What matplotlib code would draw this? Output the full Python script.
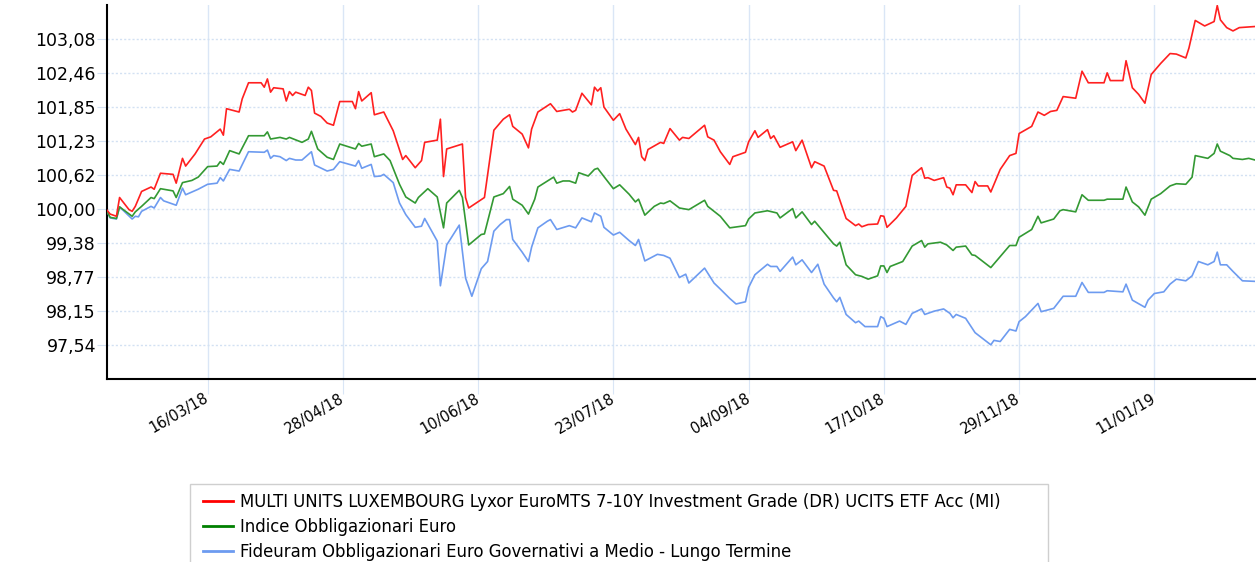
import matplotlib
matplotlib.use("Agg")
import matplotlib.pyplot as plt
from matplotlib.patches import Rectangle
from matplotlib.lines import Line2D
from matplotlib.transforms import ScaledTranslation
import pandas as pd

# days counted from the first date of the chart
start = pd.Timestamp("2018-02-12")

red_days = [0, 1, 3, 4, 7, 8, 9, 11, 14, 15, 17, 21, 22, 24, 25, 28, 31, 33, 36, 37, 38, 42, 43, 45,
            49, 50, 51, 52, 53, 56, 57, 58, 59, 60, 63, 64, 65, 66, 68, 70, 72, 74, 78, 79, 80, 81, 84,
            85, 88, 91, 94, 95, 98, 100, 101, 105, 106, 107, 108, 113, 114, 115, 120, 123, 126, 128,
            129, 132, 134, 135, 137, 141, 143, 147, 148, 149, 151, 154, 155, 156, 157, 158, 161, 163,
            165, 168, 169, 170, 171, 172, 176, 177, 179, 182, 183, 185, 190, 191, 193, 195, 198, 199,
            203, 204, 206, 207, 210, 211, 212, 214, 218, 219, 221, 224, 225, 228, 231, 232, 235, 238,
            239, 240, 242, 245, 246, 247, 248, 251, 254, 256, 259, 260, 261, 263, 266, 267, 268, 269,
            270, 273, 275, 276, 277, 280, 281, 284, 287, 289, 290, 294, 296, 298, 300, 302, 304, 308,
            310, 312, 317, 318, 319, 323, 324, 326, 328, 330, 332, 335, 338, 340, 343, 344, 346, 349,
            352, 353, 354, 356, 358, 360, 365]
red_vals = [99.98, 99.91, 99.87, 100.21, 99.99, 99.96, 100.05, 100.32, 100.40, 100.36, 100.65, 100.63,
            100.47, 100.92, 100.78, 101.00, 101.27, 101.31, 101.45, 101.34, 101.82, 101.76, 102.00,
            102.29, 102.29, 102.21, 102.36, 102.12, 102.20, 102.18, 101.96, 102.13, 102.06, 102.12,
            102.06, 102.21, 102.15, 101.74, 101.68, 101.56, 101.52, 101.95, 101.95, 101.82, 102.13,
            101.96, 102.11, 101.71, 101.76, 101.42, 100.90, 100.97, 100.75, 100.88, 101.21, 101.25,
            101.63, 100.59, 101.09, 101.18, 100.21, 100.02, 100.21, 101.43, 101.63, 101.71, 101.50,
            101.36, 101.11, 101.45, 101.76, 101.91, 101.77, 101.81, 101.76, 101.79, 102.10, 101.89,
            102.21, 102.14, 102.20, 101.85, 101.61, 101.73, 101.45, 101.17, 101.30, 100.95, 100.88,
            101.08, 101.21, 101.19, 101.46, 101.25, 101.30, 101.28, 101.52, 101.31, 101.25, 101.04,
            100.81, 100.95, 101.03, 101.22, 101.42, 101.30, 101.44, 101.28, 101.33, 101.12, 101.22,
            101.06, 101.25, 100.75, 100.86, 100.78, 100.34, 100.33, 99.83, 99.70, 99.73, 99.68, 99.72,
            99.73, 99.88, 99.87, 99.67, 99.84, 100.05, 100.61, 100.75, 100.56, 100.57, 100.52, 100.57,
            100.40, 100.38, 100.26, 100.44, 100.44, 100.30, 100.50, 100.42, 100.42, 100.31, 100.72,
            100.97, 101.01, 101.37, 101.50, 101.76, 101.70, 101.77, 101.79, 102.04, 102.01, 102.50,
            102.29, 102.29, 102.47, 102.33, 102.33, 102.69, 102.20, 102.08, 101.92, 102.44, 102.64,
            102.82, 102.81, 102.74, 102.92, 103.42, 103.32, 103.40, 103.69, 103.43, 103.29, 103.23,
            103.29, 103.31]

green_days = [0, 1, 3, 4, 8, 9, 11, 14, 15, 17, 21, 22, 24, 27, 29, 32, 35, 36, 37, 39, 42, 45, 50, 51,
              52, 55, 57, 58, 62, 64, 65, 67, 70, 72, 74, 79, 80, 81, 84, 85, 88, 90, 93, 95, 98, 99,
              102, 105, 107, 108, 112, 113, 115, 119, 120, 123, 126, 128, 129, 132, 134, 136, 137, 142,
              143, 145, 147, 149, 150, 153, 155, 156, 158, 161, 163, 166, 168, 169, 171, 174, 176, 177,
              179, 182, 185, 190, 191, 195, 198, 203, 204, 206, 210, 213, 214, 218, 219, 221, 224, 225,
              231, 232, 233, 235, 238, 240, 242, 245, 246, 247, 248, 249, 253, 256, 259, 260, 261, 265,
              267, 269, 270, 273, 275, 276, 281, 284, 287, 289, 290, 294, 296, 297, 301, 303, 304, 308,
              310, 312, 317, 318, 323, 324, 326, 328, 330, 332, 335, 338, 340, 343, 345, 346, 350, 352,
              353, 354, 357, 358, 361, 363, 365]
green_vals = [99.96, 99.85, 99.83, 100.04, 99.87, 99.95, 100.05, 100.21, 100.19, 100.37, 100.33, 100.21,
              100.48, 100.52, 100.58, 100.77, 100.78, 100.86, 100.81, 101.06, 101.00, 101.33, 101.33,
              101.40, 101.27, 101.30, 101.27, 101.30, 101.21, 101.27, 101.41, 101.09, 100.94, 100.90,
              101.18, 101.09, 101.19, 101.14, 101.18, 100.95, 101.00, 100.88, 100.45, 100.22, 100.11,
              100.21, 100.37, 100.22, 99.66, 100.11, 100.34, 100.21, 99.35, 99.54, 99.55, 100.22,
              100.28, 100.41, 100.18, 100.07, 99.91, 100.18, 100.40, 100.58, 100.47, 100.51, 100.51,
              100.47, 100.66, 100.60, 100.72, 100.74, 100.59, 100.37, 100.44, 100.27, 100.13, 100.18,
              99.89, 100.05, 100.11, 100.10, 100.15, 100.02, 99.99, 100.16, 100.05, 99.87, 99.66, 99.70,
              99.82, 99.93, 99.97, 99.93, 99.84, 100.01, 99.84, 99.95, 99.72, 99.78, 99.37, 99.33,
              99.40, 98.99, 98.81, 98.78, 98.73, 98.79, 98.97, 98.97, 98.85, 98.96, 99.05, 99.33, 99.43,
              99.31, 99.37, 99.40, 99.35, 99.25, 99.31, 99.33, 99.17, 99.16, 98.94, 99.14, 99.34, 99.34,
              99.49, 99.63, 99.87, 99.75, 99.82, 99.97, 99.99, 99.95, 100.26, 100.16, 100.16, 100.18,
              100.18, 100.40, 100.13, 100.04, 99.89, 100.18, 100.28, 100.42, 100.46, 100.45, 100.58,
              100.97, 100.92, 101.01, 101.18, 101.05, 100.97, 100.92, 100.90, 100.92, 100.89]

blue_days = [0, 1, 3, 4, 8, 9, 10, 11, 14, 15, 17, 18, 22, 24, 25, 29, 32, 35, 36, 37, 39, 42, 45, 50,
             51, 52, 53, 55, 57, 58, 60, 62, 65, 66, 70, 72, 74, 79, 80, 81, 84, 85, 87, 88, 91, 93, 95,
             98, 100, 101, 105, 106, 108, 112, 114, 116, 119, 121, 123, 125, 127, 128, 129, 132, 134,
             135, 137, 140, 141, 143, 147, 149, 151, 154, 155, 157, 158, 161, 163, 166, 168, 169, 171,
             175, 177, 179, 182, 184, 185, 190, 193, 195, 198, 200, 203, 204, 206, 210, 211, 213, 214,
             218, 219, 221, 224, 226, 228, 231, 232, 233, 235, 238, 239, 241, 245, 246, 247, 248, 252,
             254, 256, 259, 260, 263, 266, 268, 269, 270, 273, 276, 281, 282, 284, 287, 289, 290, 292,
             296, 297, 301, 304, 308, 310, 312, 317, 318, 323, 324, 326, 330, 331, 333, 336, 338, 340,
             343, 345, 347, 350, 352, 353, 354, 356, 358, 361, 365]
blue_vals = [99.96, 99.84, 99.82, 100.04, 99.82, 99.87, 99.86, 99.96, 100.05, 100.02, 100.21, 100.15,
             100.07, 100.38, 100.26, 100.36, 100.45, 100.47, 100.57, 100.51, 100.72, 100.69, 101.04,
             101.03, 101.07, 100.92, 100.97, 100.95, 100.88, 100.92, 100.89, 100.89, 101.04, 100.80,
             100.69, 100.72, 100.86, 100.78, 100.88, 100.74, 100.81, 100.59, 100.60, 100.63, 100.48,
             100.11, 99.90, 99.67, 99.69, 99.83, 99.42, 98.61, 99.35, 99.71, 98.75, 98.42, 98.92,
             99.05, 99.60, 99.72, 99.81, 99.81, 99.45, 99.22, 99.05, 99.31, 99.66, 99.78, 99.81, 99.63,
             99.70, 99.66, 99.84, 99.77, 99.93, 99.87, 99.67, 99.53, 99.58, 99.43, 99.34, 99.45, 99.06,
             99.18, 99.16, 99.11, 98.76, 98.82, 98.66, 98.93, 98.66, 98.55, 98.38, 98.28, 98.32, 98.58,
             98.81, 99.00, 98.96, 98.96, 98.87, 99.13, 98.99, 99.08, 98.85, 99.00, 98.64, 98.39, 98.32,
             98.40, 98.09, 97.94, 97.97, 97.87, 97.87, 98.05, 98.02, 97.87, 97.97, 97.91, 98.11, 98.19,
             98.09, 98.15, 98.19, 98.11, 98.03, 98.09, 98.02, 97.76, 97.54, 97.62, 97.60, 97.82, 97.79,
             97.96, 98.05, 98.29, 98.14, 98.20, 98.42, 98.42, 98.67, 98.49, 98.49, 98.52, 98.50, 98.64,
             98.35, 98.22, 98.35, 98.47, 98.50, 98.64, 98.73, 98.70, 98.79, 99.05, 98.99, 99.05, 99.22,
             98.99, 98.99, 98.87, 98.70, 98.69]

y_ticks = [97.54, 98.15, 98.77, 99.38, 100.00, 100.62, 101.23, 101.85, 102.46, 103.08]
y_labels = ["97,54", "98,15", "98,77", "99,38", "100,00", "100,62", "101,23", "101,85", "102,46", "103,08"]
x_ticks = ["2018-03-16", "2018-04-28", "2018-06-10", "2018-07-23", "2018-09-04", "2018-10-17",
           "2018-11-29", "2019-01-11"]
x_labels = ["16/03/18", "28/04/18", "10/06/18", "23/07/18", "04/09/18", "17/10/18", "29/11/18", "11/01/19"]

names = ["MULTI UNITS LUXEMBOURG Lyxor EuroMTS 7-10Y Investment Grade (DR) UCITS ETF Acc (MI)",
         "Indice Obbligazionari Euro",
         "Fideuram Obbligazionari Euro Governativi a Medio - Lungo Termine"]


def to_dates(days):
    return [start + pd.Timedelta(days=d) for d in days]


W, H = 1257, 562
fig = plt.figure(figsize=(W / 100, H / 100), dpi=100)
ax = fig.add_axes([107 / W, 1 - 379 / H, (1255 - 107) / W, (379 - 5) / H])

ax.plot(to_dates(blue_days), blue_vals, color="#6d9bf0", lw=1.2, zorder=3)
ax.plot(to_dates(green_days), green_vals, color="#339933", lw=1.2, zorder=4)
ax.plot(to_dates(red_days), red_vals, color="#ff2020", lw=1.2, zorder=5)

ax.set_xlim(start, start + pd.Timedelta(days=365))
ax.set_ylim(96.92, 103.70)

ax.set_yticks(y_ticks)
ax.set_yticklabels(y_labels, fontsize=12.5)
ax.set_xticks(pd.to_datetime(x_ticks))
ax.set_xticklabels(x_labels, fontsize=10.5, rotation=30, ha="right", va="center",
                   rotation_mode="anchor")
# nudge the date labels a little to the left of their ticks
shift = ScaledTranslation(-0.06, 0, fig.dpi_scale_trans)
for lab in ax.get_xticklabels():
    lab.set_transform(lab.get_transform() + shift)

ax.grid(axis="y", color="#d3e1f3", linestyle=(0, (1.5, 1.5)), lw=1)
ax.grid(axis="x", color="#dae6f6", linestyle="-", lw=1)
ax.tick_params(axis="y", length=7, color="#d3e1f3", pad=1)
ax.tick_params(axis="x", length=11, color="#dae6f6", pad=2)

for s in ["top", "right"]:
    ax.spines[s].set_visible(False)
for s in ["left", "bottom"]:
    ax.spines[s].set_linewidth(1.5)
    ax.spines[s].set_color("black")

# legend box, bottom edge falls outside the picture
fig.patches.append(Rectangle((190 / W, -0.05), (1048 - 190) / W, 1.05 - 484 / H,
                             transform=fig.transFigure, fill=False, edgecolor="#cfcfcf", lw=1))
handles = [Line2D([], [], color="#ff0000", lw=2),
           Line2D([], [], color="#008000", lw=2),
           Line2D([], [], color="#6d9bf0", lw=2)]
fig.legend(handles, names, loc="upper left", bbox_to_anchor=(203 / W, 1 - 493 / H),
           frameon=False, fontsize=11.9, handlelength=1.82, handletextpad=0.42,
           labelspacing=0.42, borderpad=0, borderaxespad=0)

fig.savefig("out.png", dpi=100)
